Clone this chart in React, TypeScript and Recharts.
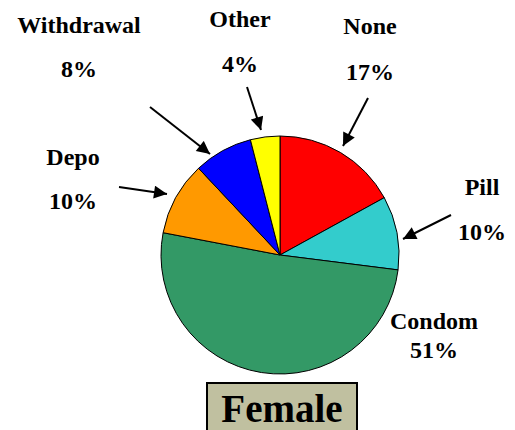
import { Cell, Pie, PieChart } from 'recharts'

const methods = ['None', 'Pill', 'Condom', 'Depo', 'Withdrawal', 'Other']
const shares = [17, 10, 51, 10, 8, 4]
const colors = ['#ff0000', '#33cccc', '#339966', '#ff9900', '#0000ff', '#ffff00']

const data = methods.map((name, i) => ({ name, value: shares[i] }))

// label placement per slice: name baseline / value baseline / arrow (from -> tip)
const labelPos = [
  { x: 370, y1: 34, y2: 80, arrow: [368, 98, 343, 146] },
  { x: 482, y1: 195, y2: 240, arrow: [451, 215, 403, 239] },
  { x: 434, y1: 329, y2: 358, arrow: null },
  { x: 73, y1: 165, y2: 209, arrow: [119, 187, 167, 194] },
  { x: 79, y1: 33, y2: 77, arrow: [150, 107, 210, 154] },
  { x: 240, y1: 27, y2: 72, arrow: [247, 87, 261, 130] },
]

const txt = { fontFamily: 'Liberation Serif', fontWeight: 700, fontSize: 24, fill: '#000' }

function Labels() {
  return (
    <svg width={515} height={430} style={{ position: 'absolute', left: 0, top: 0 }}>
      <defs>
        <marker id="head" viewBox="0 0 10 10" refX="10" refY="5" markerWidth="7.5" markerHeight="6.5" orient="auto" markerUnits="strokeWidth">
          <path d="M0,0 L10,5 L0,10 z" fill="#000" />
        </marker>
      </defs>
      {data.map((d, i) => {
        const p = labelPos[i]
        return (
          <g key={d.name}>
            <text x={p.x} y={p.y1} textAnchor="middle" style={txt}>{d.name}</text>
            <text x={p.x} y={p.y2} textAnchor="middle" style={txt}>{d.value}%</text>
            {p.arrow && (
              <line x1={p.arrow[0]} y1={p.arrow[1]} x2={p.arrow[2]} y2={p.arrow[3]} stroke="#000" strokeWidth={2} markerEnd="url(#head)" />
            )}
          </g>
        )
      })}
      <rect x={207} y={383} width={150} height={52} fill="#c0c0a0" stroke="#000" strokeWidth={2} />
      <text x={282} y={422} textAnchor="middle" style={{ ...txt, fontSize: 39 }}>Female</text>
    </svg>
  )
}

export default function App() {
  return (
    <div style={{ position: 'absolute', left: 0, top: 0, width: 515, height: 430, background: '#fff' }}>
      <PieChart width={515} height={430} margin={{ top: 0, right: 0, bottom: 0, left: 0 }}>
        <Pie
          data={data}
          dataKey="value"
          nameKey="name"
          cx={280}
          cy={255}
          outerRadius={119}
          startAngle={90}
          endAngle={-270}
          stroke="#000"
          strokeWidth={1}
          label={false}
          labelLine={false}
          isAnimationActive={false}
        >
          {data.map((d, i) => (
            <Cell key={d.name} fill={colors[i]} />
          ))}
        </Pie>
      </PieChart>
      <Labels />
    </div>
  )
}
